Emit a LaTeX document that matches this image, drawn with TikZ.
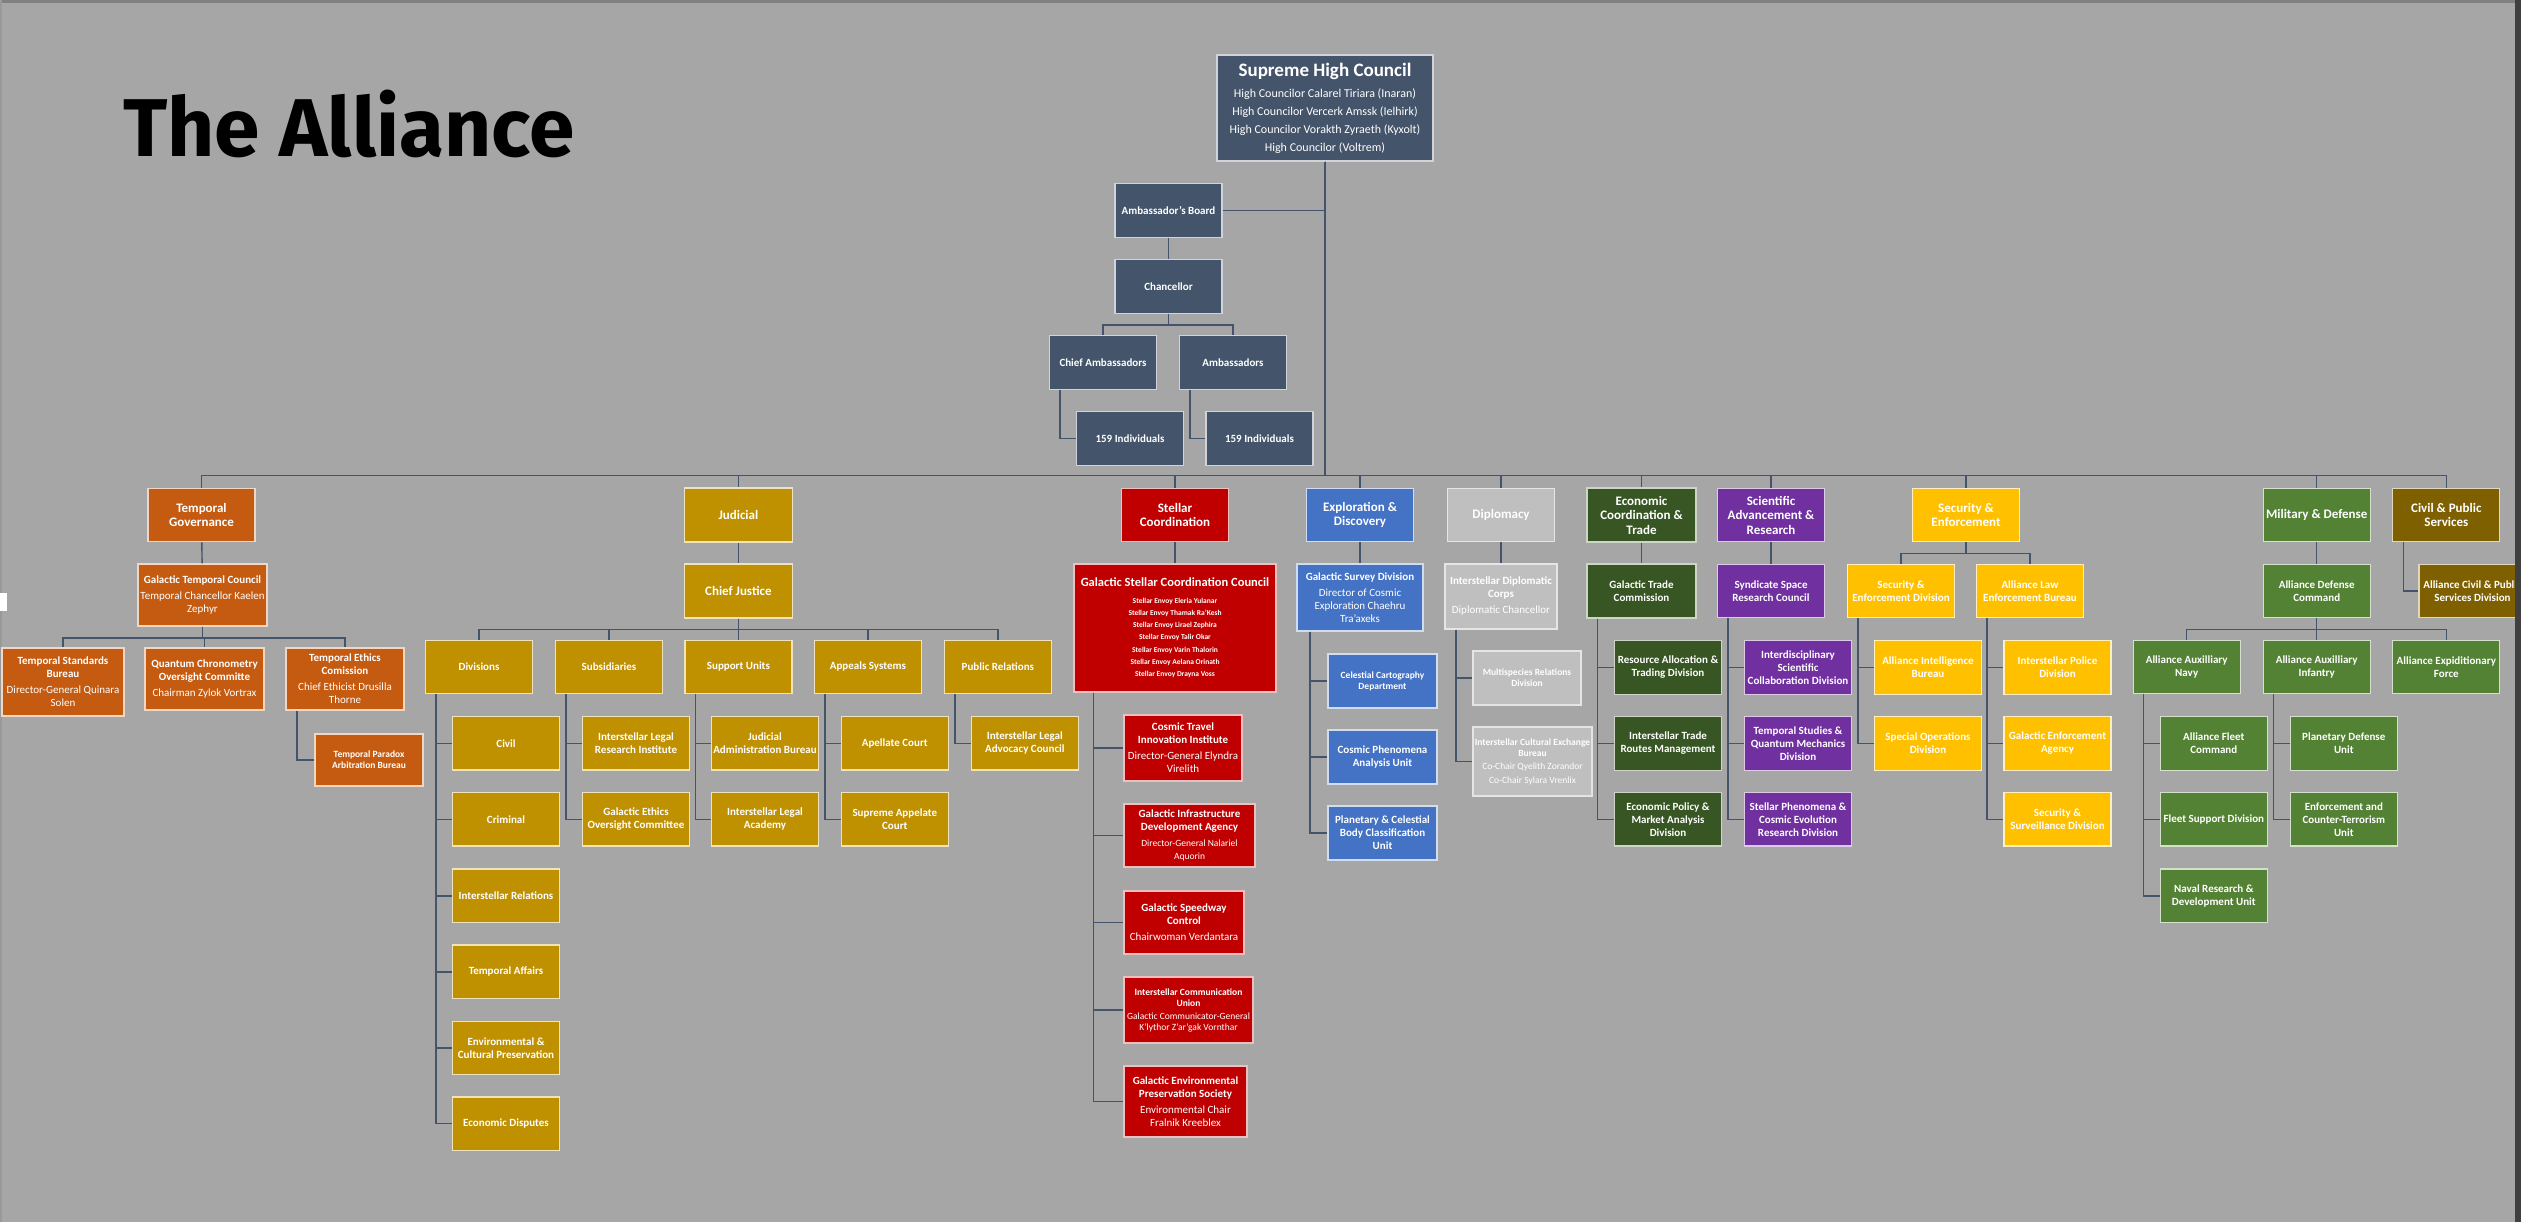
\documentclass[tikz,border=0pt]{standalone}
\usepackage{fontspec}
\setmainfont{Carlito}
\newfontfamily\titlefont{Fira Sans}
\usepackage{tikz}
\usetikzlibrary{calc,positioning}
\definecolor{alliBack}{HTML}{A6A6A6}
\definecolor{alliWire}{HTML}{44546A}
\definecolor{alliSlate}{HTML}{44546A}
\definecolor{alliRust}{HTML}{C55A11}
\definecolor{alliGold}{HTML}{BF9000}
\definecolor{alliRed}{HTML}{C00000}
\definecolor{alliBlue}{HTML}{4472C4}
\definecolor{alliSilver}{HTML}{BFBFBF}
\definecolor{alliForest}{HTML}{375623}
\definecolor{alliPurple}{HTML}{7030A0}
\definecolor{alliAmber}{HTML}{FFC000}
\definecolor{alliGreen}{HTML}{548235}
\definecolor{alliOlive}{HTML}{7F6000}
\definecolor{alliEdge}{HTML}{3F3F3F}
\tikzset{
    orgbox/.style={rectangle, line width=1.2pt, text=white, align=center, inner sep=1pt, minimum width=107pt, minimum height=53.5pt, font=\fontsize{11}{13}\selectfont\bfseries},
    sz/.style 2 args={minimum width=#1pt, minimum height=#2pt},
    toplvl/.style={font=\fontsize{13}{14.5}\selectfont\bfseries},
    tinytext/.style={font=\fontsize{9.5}{11}\selectfont\bfseries},
    leadbox/.style={orgbox, fill=alliSlate, draw=alliSlate!25!white},
    rustbox/.style={orgbox, fill=alliRust, draw=alliRust!25!white},
    goldbox/.style={orgbox, fill=alliGold, draw=alliGold!25!white},
    redbox/.style={orgbox, fill=alliRed, draw=alliRed!25!white},
    bluebox/.style={orgbox, fill=alliBlue, draw=alliBlue!25!white},
    greybox/.style={orgbox, fill=alliSilver, draw=alliSilver!40!white},
    forestbox/.style={orgbox, fill=alliForest, draw=alliForest!25!white},
    purplebox/.style={orgbox, fill=alliPurple, draw=alliPurple!25!white},
    amberbox/.style={orgbox, fill=alliAmber, draw=alliAmber!25!white},
    greenbox/.style={orgbox, fill=alliGreen, draw=alliGreen!25!white},
    olivebox/.style={orgbox, fill=alliOlive, draw=alliOlive!25!white},
    wire/.style={draw=alliWire, line width=1.4pt}
}
\newcommand{\who}[1]{{\mdseries #1}}
\newcommand{\whosm}[1]{{\fontsize{9.5}{11}\selectfont\mdseries #1}}
\newcommand{\envoy}[1]{{\fontsize{7.5}{9}\selectfont #1}}

\begin{document}
\begin{tikzpicture}[x=1pt, y=-1pt]
\useasboundingbox (0,0) rectangle (2521,1222);
\fill[alliBack] (0,0) rectangle (2521,1222);
\fill[black!50] (0,0) rectangle (2521,3);
\fill[black!40] (0,0) rectangle (1.5,1222);
\fill[white] (0,593) rectangle (7,611);

\node[anchor=base west, inner sep=0pt, font=\titlefont\bfseries\fontsize{82}{82}\selectfont] (ttl) at (123,157) {The Alliance};

% leadership
\node[leadbox, sz={216}{106}, font=\fontsize{12}{18}\selectfont] (shc) at (1325,108) {{\fontsize{19}{22}\selectfont\bfseries Supreme High Council}\\[3pt]High Councilor Calarel Tiriara (Inaran)\\High Councilor Vercerk Amssk (Ielhirk)\\High Councilor Vorakth Zyraeth (Kyxolt)\\High Councilor (Voltrem)};
\node[leadbox] (ab) at (1168.5,210.5) {Ambassador's Board};
\node[leadbox] (chan) at (1168.5,286.5) {Chancellor};
\node[leadbox] (chief) at (1103,362.5) {Chief Ambassadors};
\node[leadbox] (amb) at (1233,362.5) {Ambassadors};
\node[leadbox] (ind1) at (1130,438.5) {159 Individuals};
\node[leadbox] (ind2) at (1259.5,438.5) {159 Individuals};

% branches
\node[rustbox, toplvl] (tg) at (201.5,515) {Temporal\\Governance};
\node[goldbox, toplvl, sz={108}{54}] (jud) at (738.4,515) {Judicial};
\node[redbox, toplvl] (stc) at (1175,515) {Stellar\\Coordination};
\node[bluebox, toplvl] (exd) at (1360,515) {Exploration \&\\Discovery};
\node[greybox, toplvl] (dip) at (1501,515) {Diplomacy};
\node[forestbox, toplvl, sz={109}{54}] (ect) at (1641.5,515) {Economic\\Coordination \&\\Trade};
\node[purplebox, toplvl] (sar) at (1771,515) {Scientific\\Advancement \&\\Research};
\node[amberbox, toplvl] (sen) at (1966,515) {Security \&\\Enforcement};
\node[greenbox, toplvl] (mil) at (2316.7,515) {Military \& Defense};
\node[olivebox, toplvl] (cps) at (2446.3,515) {Civil \& Public\\Services};

% temporal governance
\node[rustbox, sz={129}{62}] (gtc) at (202.5,595) {Galactic Temporal Council\\[3pt]\who{Temporal Chancellor Kaelen}\\\who{Zephyr}};
\node[rustbox, sz={122}{68}] (tsb) at (63,682) {Temporal Standards\\Bureau\\[3pt]\who{Director-General Quinara}\\\who{Solen}};
\node[rustbox, sz={119}{62}] (qco) at (204.5,679) {Quantum Chronometry\\Oversight Committe\\[3pt]\who{Chairman Zylok Vortrax}};
\node[rustbox, sz={118}{62}] (tec) at (345,679) {Temporal Ethics\\Comission\\[3pt]\who{Chief Ethicist Drusilla}\\\who{Thorne}};
\node[rustbox, tinytext, sz={108}{52}] (tpab) at (369,760) {Temporal Paradox\\Arbitration Bureau};

% judicial
\node[goldbox, toplvl, sz={108}{54}] (cj) at (738.4,591) {Chief Justice};
\node[goldbox] (jdiv) at (479,667) {Divisions};
\node[goldbox] (jsub) at (609,667) {Subsidiaries};
\node[goldbox] (jsup) at (738.4,667) {Support Units};
\node[goldbox] (japp) at (867.9,667) {Appeals Systems};
\node[goldbox] (jpr) at (997.9,667) {Public Relations};
\node[goldbox] (civ) at (506,743.3) {Civil};
\node[goldbox] (crim) at (506,819.3) {Criminal};
\node[goldbox] (irel) at (506,895.8) {Interstellar Relations};
\node[goldbox] (taff) at (506,971.8) {Temporal Affairs};
\node[goldbox] (envp) at (506,1048) {Environmental \&\\Cultural Preservation};
\node[goldbox] (edis) at (506,1123.7) {Economic Disputes};
\node[goldbox] (ilri) at (636,743.3) {Interstellar Legal\\Research Institute};
\node[goldbox] (geoc) at (636,819.3) {Galactic Ethics\\Oversight Committee};
\node[goldbox] (jab) at (765,743.3) {Judicial\\Administration Bureau};
\node[goldbox] (ila) at (765,819.3) {Interstellar Legal\\Academy};
\node[goldbox] (apc) at (894.8,743.3) {Apellate Court};
\node[goldbox] (sapc) at (894.8,819.3) {Supreme Appelate\\Court};
\node[goldbox] (ilac) at (1024.8,743.3) {Interstellar Legal\\Advocacy Council};

% stellar coordination
\node[redbox, sz={202}{128}, font=\fontsize{12.5}{12.3}\selectfont\bfseries] (gscc) at (1175,628) {Galactic Stellar Coordination Council\\[4pt]\envoy{Stellar Envoy Eleria Yulanar}\\\envoy{Stellar Envoy Thamak Ra'Kesh}\\\envoy{Stellar Envoy Lirael Zephira}\\\envoy{Stellar Envoy Talir Okar}\\\envoy{Stellar Envoy Varin Thalorin}\\\envoy{Stellar Envoy Aelana Orinath}\\\envoy{Stellar Envoy Drayna Voss}};
\node[redbox, sz={118}{66}] (cti) at (1183,748) {Cosmic Travel\\Innovation Institute\\[3pt]\who{Director-General Elyndra}\\\who{Virelith}};
\node[redbox, sz={131}{63}] (gida) at (1189.5,835.5) {Galactic Infrastructure\\Development Agency\\[3pt]\whosm{Director-General Nalariel}\\\whosm{Aquorin}};
\node[redbox, sz={120}{63}] (gsc) at (1184,922.5) {Galactic Speedway\\Control\\[3pt]\who{Chairwoman Verdantara}};
\node[redbox, tinytext, sz={129}{66}] (icu) at (1188.5,1010) {Interstellar Communication\\Union\\[2pt]\whosm{Galactic Communicator-General}\\\whosm{K'lythor Z'ar'gak Vornthar}};
\node[redbox, sz={123}{71}] (geps) at (1185.5,1101.5) {Galactic Environmental\\Preservation Society\\[3pt]\who{Environmental Chair}\\\who{Fralnik Kreeblex}};

% exploration and diplomacy
\node[bluebox, sz={126}{67}] (gsd) at (1360,597.5) {Galactic Survey Division\\[3pt]\who{Director of Cosmic}\\\who{Exploration Chaehru}\\\who{Tra'axeks}};
\node[bluebox, tinytext, sz={109}{54}] (ccd) at (1382.5,681) {Celestial Cartography\\Department};
\node[bluebox, sz={109}{54}] (cpa) at (1382.5,757) {Cosmic Phenomena\\Analysis Unit};
\node[bluebox, sz={109}{54}] (pcb) at (1382.5,833) {Planetary \& Celestial\\Body Classification\\Unit};
\node[greybox, sz={112}{65}] (idc) at (1501,596.5) {Interstellar Diplomatic\\Corps\\[3pt]\who{Diplomatic Chancellor}};
\node[greybox, tinytext, sz={108}{54}] (mrd) at (1527,678) {Multispecies Relations\\Division};
\node[greybox, tinytext, sz={119}{69}] (iceb) at (1532.5,761.5) {Interstellar Cultural Exchange\\Bureau\\[2pt]\whosm{Co-Chair Qyelith Zorandor}\\[3pt]\whosm{Co-Chair Sylara Vrenlix}};

% economic and scientific
\node[forestbox, sz={109}{54}] (gtcom) at (1641.5,591) {Galactic Trade\\Commission};
\node[forestbox] (rat) at (1668,667.5) {Resource Allocation \&\\Trading Division};
\node[forestbox] (itr) at (1668,743.5) {Interstellar Trade\\Routes Management};
\node[forestbox] (epm) at (1668,819.3) {Economic Policy \&\\Market Analysis\\Division};
\node[purplebox] (ssrc) at (1771,591) {Syndicate Space\\Research Council};
\node[purplebox] (isc) at (1798,667.5) {Interdisciplinary\\Scientific\\Collaboration Division};
\node[purplebox] (tsq) at (1798,743.5) {Temporal Studies \&\\Quantum Mechanics\\Division};
\node[purplebox] (spc) at (1798,819.3) {Stellar Phenomena \&\\Cosmic Evolution\\Research Division};

% security
\node[amberbox] (sed) at (1901,591) {Security \&\\Enforcement Division};
\node[amberbox] (aleb) at (2030,591) {Alliance Law\\Enforcement Bureau};
\node[amberbox] (aib) at (1928,667.5) {Alliance Intelligence\\Bureau};
\node[amberbox] (sod) at (1928,743.5) {Special Operations\\Division};
\node[amberbox] (ipd) at (2057.5,667.5) {Interstellar Police\\Division};
\node[amberbox] (gea) at (2057.5,743.5) {Galactic Enforcement\\Agency};
\node[amberbox] (ssd) at (2057.5,819.3) {Security \&\\Surveillance Division};

% military and civil
\node[greenbox] (adc) at (2316.7,591) {Alliance Defense\\Command};
\node[greenbox] (aan) at (2186.7,667) {Alliance Auxilliary\\Navy};
\node[greenbox] (aai) at (2316.7,667) {Alliance Auxilliary\\Infantry};
\node[greenbox] (aef) at (2446.3,667) {Alliance Expiditionary\\Force};
\node[greenbox] (afc) at (2213.8,743.5) {Alliance Fleet\\Command};
\node[greenbox] (fsd) at (2213.8,819.3) {Fleet Support Division};
\node[greenbox] (nrd) at (2213.8,895.8) {Naval Research \&\\Development Unit};
\node[greenbox] (pdu) at (2343.8,743.5) {Planetary Defense\\Unit};
\node[greenbox] (ectu) at (2343.8,819.3) {Enforcement and\\Counter-Terrorism\\Unit};
\node[olivebox] (acps) at (2472.5,591) {Alliance Civil \& Public\\Services Division};

% connectors
\foreach \c in {tg,jud,stc,exd,dip,ect,sar,sen,mil,cps}
    \draw[wire] (shc.south) |- ($(\c.north)+(0,-12)$) -- (\c.north);
\draw[wire] (ab.east) -| (shc.south);
\draw[wire] (ab) -- (chan);
\foreach \c in {chief,amb}
    \draw[wire] (chan.south) -- ++(0,11) -| (\c.north);
\draw[wire] ($(chief.south west)+(11,0)$) |- (ind1.west);
\draw[wire] ($(amb.south west)+(11,0)$) |- (ind2.west);

\draw[wire] (tg) -- (gtc);
\foreach \c in {tsb,qco,tec}
    \draw[wire] (gtc.south) -- ++(0,11.5) -| (\c.north);
\draw[wire] ($(tec.south west)+(11.5,0)$) |- (tpab.west);

\draw[wire] (jud) -- (cj);
\foreach \c in {jdiv,jsub,jsup,japp,jpr}
    \draw[wire] (cj.south) -- ++(0,11) -| (\c.north);
\foreach \c in {civ,crim,irel,taff,envp,edis}
    \draw[wire] ($(jdiv.south west)+(11,0)$) |- (\c.west);
\foreach \c in {ilri,geoc}
    \draw[wire] ($(jsub.south west)+(11,0)$) |- (\c.west);
\foreach \c in {jab,ila}
    \draw[wire] ($(jsup.south west)+(11,0)$) |- (\c.west);
\foreach \c in {apc,sapc}
    \draw[wire] ($(japp.south west)+(11,0)$) |- (\c.west);
\draw[wire] ($(jpr.south west)+(11,0)$) |- (ilac.west);

\draw[wire] (stc) -- (gscc);
\foreach \c in {cti,gida,gsc,icu,geps}
    \draw[wire] ($(gscc.south west)+(20,0)$) |- (\c.west);

\draw[wire] (exd) -- (gsd);
\foreach \c in {ccd,cpa,pcb}
    \draw[wire] ($(gsd.south west)+(13.5,0)$) |- (\c.west);
\draw[wire] (dip) -- (idc);
\foreach \c in {mrd,iceb}
    \draw[wire] ($(idc.south west)+(11.5,0)$) |- (\c.west);

\draw[wire] (ect) -- (gtcom);
\foreach \c in {rat,itr,epm}
    \draw[wire] ($(gtcom.south west)+(11,0)$) |- (\c.west);
\draw[wire] (sar) -- (ssrc);
\foreach \c in {isc,tsq,spc}
    \draw[wire] ($(ssrc.south west)+(11,0)$) |- (\c.west);

\foreach \c in {sed,aleb}
    \draw[wire] (sen.south) -- ++(0,11) -| (\c.north);
\foreach \c in {aib,sod}
    \draw[wire] ($(sed.south west)+(11,0)$) |- (\c.west);
\foreach \c in {ipd,gea,ssd}
    \draw[wire] ($(aleb.south west)+(11,0)$) |- (\c.west);

\draw[wire] (mil) -- (adc);
\foreach \c in {aan,aai,aef}
    \draw[wire] (adc.south) -- ++(0,11) -| (\c.north);
\foreach \c in {afc,fsd,nrd}
    \draw[wire] ($(aan.south west)+(11,0)$) |- (\c.west);
\foreach \c in {pdu,ectu}
    \draw[wire] ($(aai.south west)+(11,0)$) |- (\c.west);
\draw[wire] ($(cps.south west)+(11.5,0)$) |- (acps.west);

\fill[alliEdge] (2515,0) rectangle (2521,1222);
\end{tikzpicture}
\end{document}
